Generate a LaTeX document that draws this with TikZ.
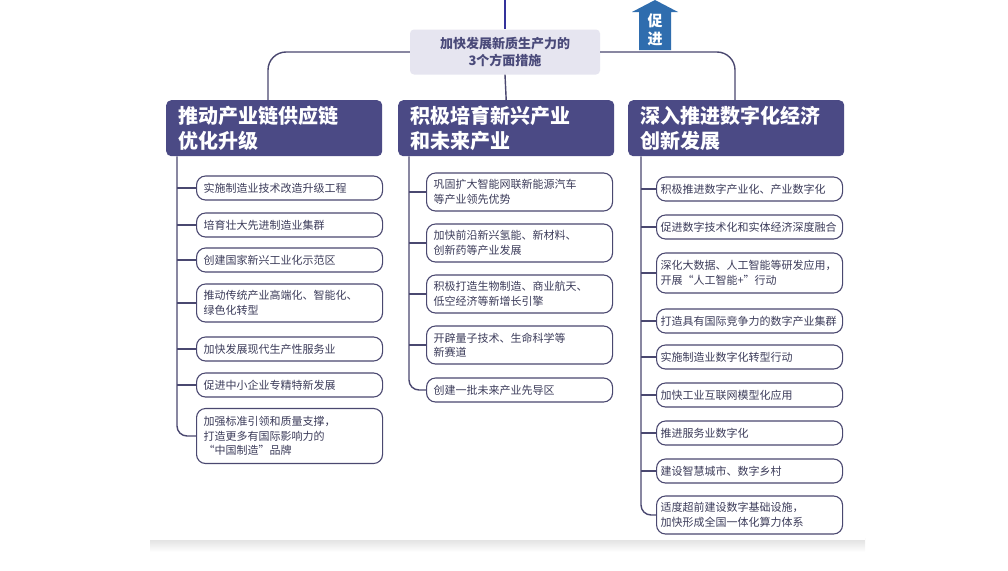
\documentclass[tikz,border=0pt]{standalone}
\usepackage{fontspec}
\setmainfont{Noto Sans CJK SC}
\definecolor{hdr}{HTML}{4B4A85}
\definecolor{ln}{HTML}{4A4870}
\definecolor{ctr}{HTML}{E6E5F0}
\definecolor{ctrtxt}{HTML}{4A4A7A}
\definecolor{blu}{HTML}{2F6DAE}
\definecolor{txt}{HTML}{3C3C5A}
\tikzset{
 hbox/.style={fill=hdr,rounded corners=5pt,text=white,font=\fontsize{20}{25}\selectfont\bfseries,align=left,anchor=north west,inner xsep=12pt,minimum height=56pt,text width=192pt},
 item/.style={draw=ln,line width=1.1pt,fill=white,rounded corners=9pt,text=txt,font=\fontsize{11}{14.5}\selectfont,align=left,inner xsep=7pt,anchor=west,text width=172pt},
 conn/.style={draw=ln,line width=1.4pt},
}
\begin{document}
\begin{tikzpicture}[x=1pt,y=-1pt]
\useasboundingbox (0,0) rectangle (1008,570);
\shade[top color=gray!25,bottom color=white] (150,538) rectangle (865,552);
\fill[white] (150,0) rectangle (865,540);
% top
\node[fill=ctr,rounded corners=4pt,text=ctrtxt,font=\fontsize{13}{17}\selectfont\bfseries,align=center,minimum width=190pt,minimum height=45pt] (c) at (505,52) {加快发展新质生产力的\\3个方面措施};
\coordinate (top) at (505,0);
\draw[conn,draw=ln!70!blue] (top) -- (c.north);
\fill[blu] (639,50) -- (639,12) -- (632,12) -- (655,0) -- (678,12) -- (671,12) -- (671,50) -- cycle;
\node[text=white,font=\fontsize{15}{18}\selectfont\bfseries,align=center] (arrt) at (655,30) {促\\进};
% headers
\node[hbox] (h1) at (166,100) {推动产业链供应链\\优化升级};
\node[hbox] (h2) at (398,100) {积极培育新兴产业\\和未来产业};
\node[hbox] (h3) at (628,100) {深入推进数字化经济\\创新发展};
\draw[conn,rounded corners=18pt] (c.west) -- (268,52) -- (268,100);
\draw[conn,rounded corners=18pt] (c.east) -- (735,52) -- (735,100);
\draw[conn] (c.south) -- (h2.north);
% column 1
\begin{scope}[every node/.style={item}]
\node[minimum height=24pt] (a1) at (196,188) {实施制造业技术改造升级工程};
\node[minimum height=24pt] (a2) at (196,225) {培育壮大先进制造业集群};
\node[minimum height=24pt] (a3) at (196,260) {创建国家新兴工业化示范区};
\node[minimum height=38pt] (a4) at (196,303) {推动传统产业高端化、智能化、\\绿色化转型};
\node[minimum height=24pt] (a5) at (196,349) {加快发展现代生产性服务业};
\node[minimum height=24pt] (a6) at (196,385) {促进中小企业专精特新发展};
\node[minimum height=55pt] (a7) at (196,436) {加强标准引领和质量支撑，\\打造更多有国际影响力的\\“中国制造”品牌};
\end{scope}
\draw[conn,rounded corners=10pt] (h1.south -| 177,0) |- (a7.west);
\foreach \i in {1,...,6} \draw[conn] (a\i.west -| 177,0) -- (a\i.west);
% column 2
\begin{scope}[every node/.style={item}]
\node[minimum height=38pt] (b1) at (426,192) {巩固扩大智能网联新能源汽车\\等产业领先优势};
\node[minimum height=38pt] (b2) at (426,243) {加快前沿新兴氢能、新材料、\\创新药等产业发展};
\node[minimum height=38pt] (b3) at (426,294) {积极打造生物制造、商业航天、\\低空经济等新增长引擎};
\node[minimum height=38pt] (b4) at (426,345) {开辟量子技术、生命科学等\\新赛道};
\node[minimum height=24pt] (b5) at (426,390) {创建一批未来产业先导区};
\end{scope}
\draw[conn,rounded corners=10pt] (h2.south -| 409,0) |- (b5.west);
\foreach \i in {1,...,4} \draw[conn] (b\i.west -| 409,0) -- (b\i.west);
% column 3
\begin{scope}[every node/.style={item,inner xsep=4pt,text width=178pt}]
\node[minimum height=24pt] (d1) at (656,189) {积极推进数字产业化、产业数字化};
\node[minimum height=24pt] (d2) at (656,227) {促进数字技术化和实体经济深度融合};
\node[minimum height=40pt] (d3) at (656,273) {深化大数据、人工智能等研发应用，\\开展“人工智能+”行动};
\node[minimum height=24pt] (d4) at (656,321) {打造具有国际竞争力的数字产业集群};
\node[minimum height=24pt] (d5) at (656,357) {实施制造业数字化转型行动};
\node[minimum height=24pt] (d6) at (656,395) {加快工业互联网模型化应用};
\node[minimum height=24pt] (d7) at (656,433) {推进服务业数字化};
\node[minimum height=24pt] (d8) at (656,471) {建设智慧城市、数字乡村};
\node[minimum height=38pt] (d9) at (656,515) {适度超前建设数字基础设施，\\加快形成全国一体化算力体系};
\end{scope}
\draw[conn,rounded corners=10pt] (h3.south -| 641,0) |- (d9.west);
\foreach \i in {1,...,8} \draw[conn] (d\i.west -| 641,0) -- (d\i.west);
\end{tikzpicture}
\end{document}
